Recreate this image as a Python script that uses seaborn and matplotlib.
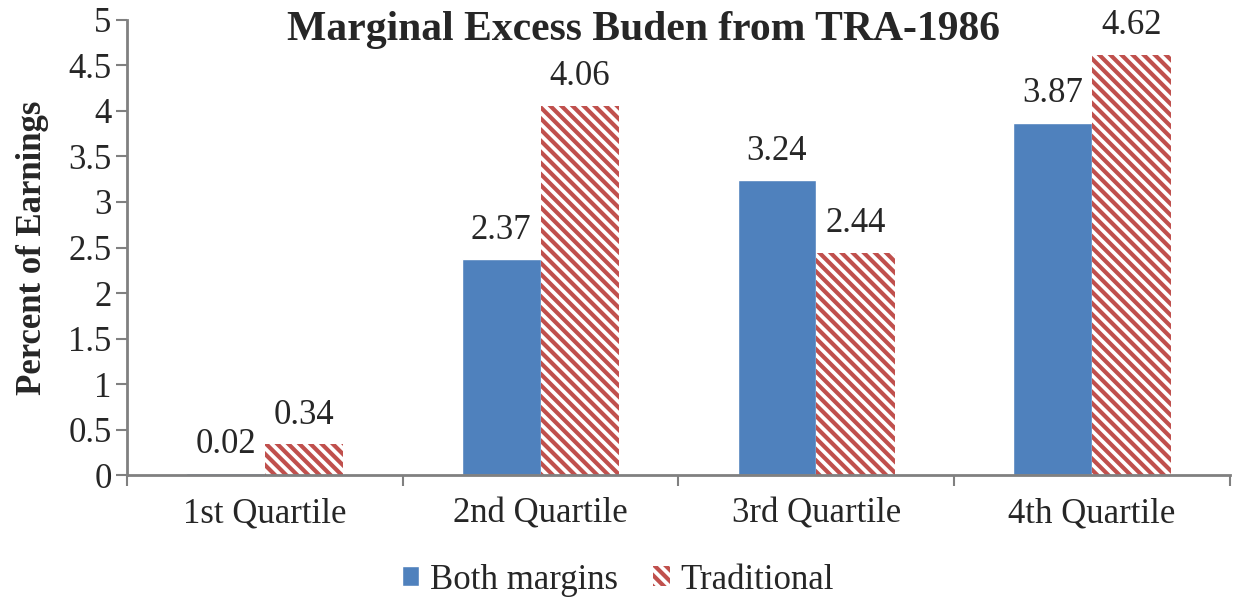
import numpy as np
import pandas as pd
import seaborn as sns
import matplotlib.pyplot as plt
from matplotlib.patches import Patch

# data
quartiles = ["1st Quartile", "2nd Quartile", "3rd Quartile", "4th Quartile"]
both_margins = [0.02, 2.37, 3.24, 3.87]
traditional = [0.34, 4.06, 2.44, 4.62]
series = ["Both margins", "Traditional"]

blue = "#4F81BD"
red = "#C0504D"
hatch = "\\\\\\"  # three backslashes -> dense diagonal stripes

df = pd.DataFrame({
    "quartile": quartiles * 2,
    "value": both_margins + traditional,
    "series": [series[0]] * 4 + [series[1]] * 4,
})

sns.set_style("white")
plt.rcParams["font.family"] = ["Liberation Serif", "DejaVu Serif"]
plt.rcParams["hatch.linewidth"] = 3.0
plt.rcParams["hatch.color"] = red

fig = plt.figure(figsize=(12.36, 6), dpi=100)
ax = fig.add_axes([0.1027, 0.2083, 0.8923, 0.7584])

sns.barplot(data=df, x="quartile", y="value", hue="series",
            palette=[blue, "white"], width=0.57, gap=0, saturation=1,
            ax=ax, legend=False)

for p in ax.containers[1]:
    p.set_hatch(hatch)
    p.set_edgecolor(red)
    p.set_linewidth(0)

for c in ax.containers:
    ax.bar_label(c, labels=[f"{v:.2f}" for v in c.datavalues],
                 padding=9, fontsize=25)

ax.set_ylim(0, 5)
ax.set_xlim(-0.5, 3.5)
ax.set_yticks(np.arange(0, 5.01, 0.5))
ax.set_yticklabels([f"{v:g}" for v in np.arange(0, 5.01, 0.5)])
ax.set_xticks(range(4))
ax.set_xticklabels(quartiles)
ax.set_xticks(np.arange(-0.5, 3.6, 1), minor=True)
ax.tick_params(axis="x", which="major", length=0, labelsize=25, pad=16)
ax.tick_params(axis="x", which="minor", length=8, width=1.5, color="#808080",
               direction="out", bottom=True)
ax.tick_params(axis="y", length=8, width=1.5, color="#808080",
               direction="out", left=True, labelsize=25, pad=3)
ax.set_xlabel("")
ax.set_ylabel("Percent of Earnings", fontsize=25, fontweight="bold", labelpad=14)
for s in ["top", "right"]:
    ax.spines[s].set_visible(False)
for s in ["left", "bottom"]:
    ax.spines[s].set_color("#808080")
    ax.spines[s].set_linewidth(2)

fig.text(0.521, 0.95, "Marginal Excess Buden from TRA-1986",
         ha="center", va="center", fontsize=30, fontweight="bold")

handles = [Patch(facecolor=blue, label=series[0]),
           Patch(facecolor="white", edgecolor=red, hatch=hatch,
                 linewidth=0, label=series[1])]
fig.legend(handles=handles, loc="center", bbox_to_anchor=(0.5, 0.033),
           ncol=2, frameon=False, fontsize=25, handlelength=0.5,
           handleheight=0.5, handletextpad=0.3, columnspacing=1.0)

fig.savefig("out.png", dpi=100)
